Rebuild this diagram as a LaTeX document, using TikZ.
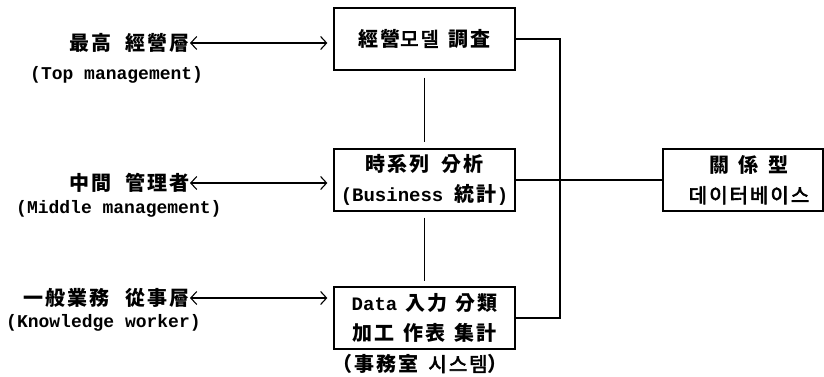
\documentclass[tikz,border=0pt]{standalone}
\usepackage{fontspec}
\newfontfamily\kr[LetterSpace=10]{Noto Sans CJK KR}
\newfontfamily\krm[LetterSpace=10, FakeBold=3]{Noto Sans CJK KR}
\setmonofont{Liberation Mono}
\usetikzlibrary{arrows.meta}
\newcommand{\gap}[1]{\hspace{#1pt}}
\newcommand{\hg}[1]{{\krm\mdseries #1}}
\newcommand{\mono}[1]{{\ttfamily\fontsize{19}{30}\selectfont #1}}
\begin{document}
\begin{tikzpicture}[x=1pt,y=-1pt,
  box/.style={draw, line width=1.3pt, minimum width=181pt, minimum height=62pt, inner sep=0pt, align=center, font=\kr\bfseries\fontsize{20}{30}\selectfont},
  cjklab/.style={inner sep=0pt, font=\kr\bfseries\fontsize{20}{24}\selectfont},
  enlab/.style={inner sep=0pt, font=\ttfamily\bfseries\fontsize{18}{22}\selectfont},
  conn/.style={line width=1.1pt},
  biarrow/.style={line width=1.1pt, {Straight Barb[length=6pt,width=13pt]}-{Straight Barb[length=6pt,width=13pt]}, shorten >=6pt}
]
\useasboundingbox (0,0) rectangle (824,377);
\fill[white] (0,0) rectangle (824,377);

\node[box] (top) at (424.5,39) {經營\hg{모델}\gap{10}調査};
\node[box] (mid) at (424.5,180) {時系列\gap{12}分析\\\mono{(Business }統計\mono{)}};
\node[box] (bot) at (424.5,318) {\mono{Data}\gap{8}入力\gap{8}分類\\加工\gap{9}作表\gap{9}集計};
\node[box, minimum width=160pt] (db) at (743,180) {\hspace{12pt}關\gap{10}係\gap{10}型\\\hspace{12pt}{\addfontfeature{LetterSpace=16}\hg{데이터베이스}}};
\node[cjklab] (cap) at (420,364) {（事務室\gap{10}\hg{시스템}）};

\node[cjklab, anchor=east] (l1) at (190,43) {最高\gap{14}經營層};
\node[enlab, anchor=west] (e1) at (30,75) {(Top management)};
\node[cjklab, anchor=east] (l2) at (190,183) {中間\gap{14}管理者};
\node[enlab, anchor=west] (e2) at (16,209) {(Middle management)};
\node[cjklab, anchor=east] (l3) at (190,298) {一般業務\gap{16}從事層};
\node[enlab, anchor=west] (e3) at (6,323) {(Knowledge worker)};

\draw[biarrow] (l1.east) -- (l1.east -| top.west);
\draw[biarrow] (l2.east) -- (l2.east -| mid.west);
\draw[biarrow] (l3.east) -- (l3.east -| bot.west);

\draw[conn, shorten <=7pt, shorten >=6pt] (top.south) -- (mid.north);
\draw[conn, shorten <=6pt, shorten >=5pt] (mid.south) -- (bot.north);

\coordinate (bus) at (560,180);
\draw[conn] (top.east) -- (top.east -| bus) -- (bot.east -| bus) -- (bot.east);
\draw[conn] (mid.east) -- (db.west);
\end{tikzpicture}
\end{document}
